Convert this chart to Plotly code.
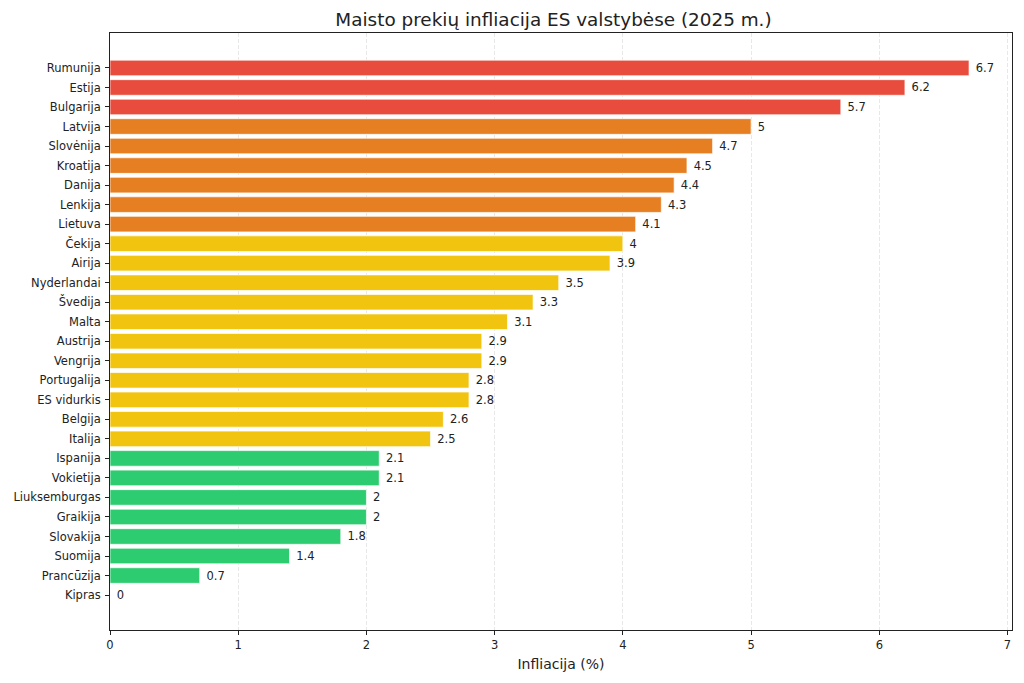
import plotly.graph_objects as go

countries = ["Rumunija", "Estija", "Bulgarija", "Latvija", "Slovėnija", "Kroatija", "Danija",
             "Lenkija", "Lietuva", "Čekija", "Airija", "Nyderlandai", "Švedija", "Malta",
             "Austrija", "Vengrija", "Portugalija", "ES vidurkis", "Belgija", "Italija",
             "Ispanija", "Vokietija", "Liuksemburgas", "Graikija", "Slovakija", "Suomija",
             "Prancūzija", "Kipras"]
values = [6.7, 6.2, 5.7, 5.0, 4.7, 4.5, 4.4, 4.3, 4.1, 4.0, 3.9, 3.5, 3.3, 3.1,
          2.9, 2.9, 2.8, 2.8, 2.6, 2.5, 2.1, 2.1, 2.0, 2.0, 1.8, 1.4, 0.7, 0.0]
labels = ["6.7", "6.2", "5.7", "5", "4.7", "4.5", "4.4", "4.3", "4.1", "4", "3.9", "3.5", "3.3", "3.1",
          "2.9", "2.9", "2.8", "2.8", "2.6", "2.5", "2.1", "2.1", "2", "2", "1.8", "1.4", "0.7", "0"]
x_ticks = [0, 1, 2, 3, 4, 5, 6, 7]


def color_for(v):
    if v > 5:
        return "#e74c3c"
    if v > 4:
        return "#e67e22"
    if v >= 2.5:
        return "#f1c40f"
    return "#2ecc71"


colors = [color_for(v) for v in values]

# bottom-to-top order for the category axis
cats = countries[::-1]
vals = values[::-1]
labs = ["\u00a0" + s for s in labels[::-1]]
cols = colors[::-1]

fig = go.Figure(go.Bar(
    x=vals, y=cats, orientation="h",
    marker=dict(color=cols, line=dict(color="white", width=0.7)),
    width=0.8,
    text=labs, textposition="outside", cliponaxis=False,
    textfont=dict(family="DejaVu Sans", size=11.5, color="#222222"),
))

n = len(cats)
fig.update_layout(
    width=1024, height=683,
    paper_bgcolor="white", plot_bgcolor="white",
    margin=dict(l=110, r=12, t=33, b=53),
    title=dict(text="Maisto prekių infliacija ES valstybėse (2025 m.)",
               xref="paper", x=0.4917, xanchor="center", y=0.972, yanchor="middle",
               font=dict(family="DejaVu Sans", size=18.4, color="#222222")),
    font=dict(family="DejaVu Sans", size=11.5, color="#222222"),
    showlegend=False,
    bargap=0.2,
)
fig.update_xaxes(
    range=[0, 7.035], tickvals=x_ticks, ticktext=[str(t) for t in x_ticks],
    ticks="outside", ticklen=4, tickcolor="#222222",
    showline=True, linecolor="#222222", linewidth=1, mirror=True,
    showgrid=True, gridcolor="rgba(0,0,0,0.09)", griddash="4px,2px", gridwidth=0.8,
    zeroline=False,
    title=dict(text="Infliacija (%)", font=dict(family="DejaVu Sans", size=14, color="#222222"), standoff=8),
    tickfont=dict(size=11.5),
)
fig.update_yaxes(
    type="category", categoryorder="array", categoryarray=cats,
    range=[-1.79, n - 1 + 1.79],
    ticks="outside", ticklen=4, tickcolor="#222222",
    showline=True, linecolor="#222222", linewidth=1, mirror=True,
    showgrid=False, zeroline=False,
    tickfont=dict(size=11.5),
    ticklabelstandoff=2,
)

fig.write_html("out.html", config={"displayModeBar": False},
               post_script="document.body.style.margin='0';")
